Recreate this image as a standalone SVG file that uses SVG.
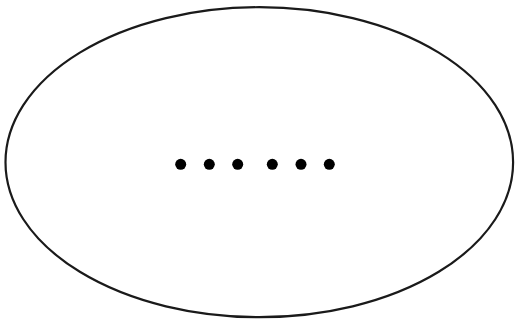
<svg xmlns="http://www.w3.org/2000/svg" width="517" height="325" viewBox="0 0 517 325">
<style>
.outline{fill:#fff;stroke:#1a1a1a;stroke-width:2.2}
.dot{fill:#000}
</style>
<rect width="517" height="325" fill="#fff"/>
<g id="ellipse-node">
<ellipse class="outline" cx="259.3" cy="162.2" rx="253.8" ry="155"/>
<g id="dots">
<circle class="dot" cx="180.7" cy="164.3" r="5.5"/>
<circle class="dot" cx="209.3" cy="164.3" r="5.5"/>
<circle class="dot" cx="237.7" cy="164.3" r="5.5"/>
<circle class="dot" cx="272.3" cy="164.3" r="5.5"/>
<circle class="dot" cx="301" cy="164.3" r="5.5"/>
<circle class="dot" cx="329.3" cy="164.3" r="5.5"/>
</g>
</g>
<g id="connectors"/>
</svg>
